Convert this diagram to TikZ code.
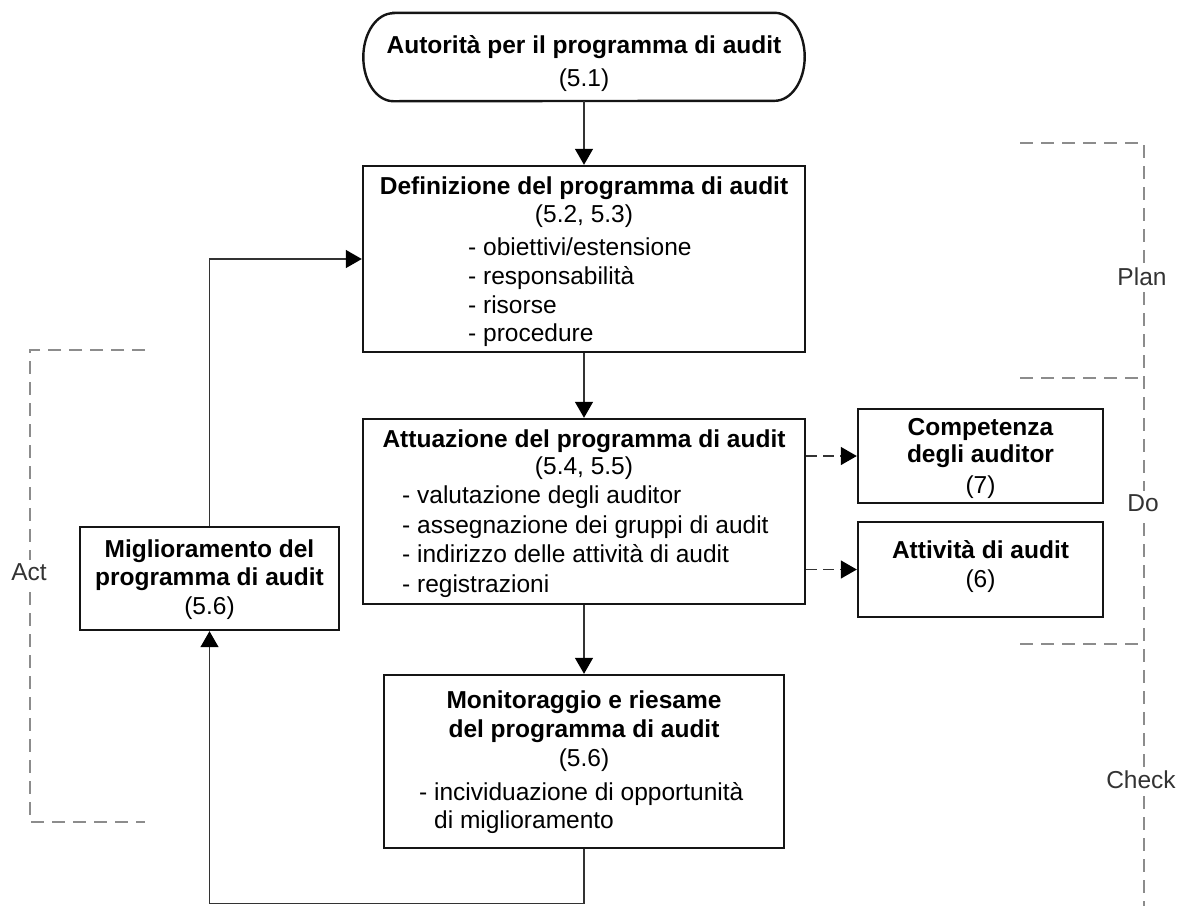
\documentclass[tikz,border=0pt]{standalone}
\usepackage{fontspec}
\setmainfont{Liberation Sans}
\usetikzlibrary{arrows.meta}
\newcommand\dfont{\fontsize{24.5pt}{29pt}\selectfont}
\definecolor{boxcol}{HTML}{151515}
\definecolor{conncol}{HTML}{333333}
\definecolor{brkcol}{HTML}{8C8C8C}
\definecolor{labcol}{HTML}{333333}
\tikzset{
  boxshape/.style={draw=boxcol, line width=2.4pt, inner sep=0pt},
  plainshape/.style={inner sep=0pt},
  txt/.style={inner sep=0pt, anchor=base, font=\dfont},
  btxt/.style={inner sep=0pt, anchor=base, font=\dfont\bfseries},
  ltxt/.style={inner sep=0pt, anchor=base west, font=\dfont},
  tip/.style={-{Triangle[length=16pt,width=18pt,fill=black,color=black]}},
  conn/.style={draw=conncol, line width=1.3pt, tip},
  dconn/.style={draw=conncol, line width=1.4pt, dash pattern=on 11pt off 6pt, tip},
  bracket/.style={draw=brkcol, line width=2.2pt, dash pattern=on 13pt off 8pt},
  brklabel/.style={fill=white, inner sep=3pt, text=labcol, font=\dfont}
}
\begin{document}
\begin{tikzpicture}[x=1pt, y=-1pt]
\useasboundingbox (0,0) rectangle (1183,906);
% boxes
\node[plainshape, minimum width=441pt, minimum height=88pt] (term) at (584,57) {};
\draw[draw=boxcol, line width=2.4pt] ([xshift=30pt]term.north west) -- ([xshift=-30pt]term.north east)
  arc[start angle=90, end angle=-90, x radius=30pt, y radius=44pt]
  -- ([xshift=30pt]term.south west)
  arc[start angle=270, end angle=90, x radius=30pt, y radius=44pt] -- cycle;
\node[boxshape, minimum width=442pt, minimum height=186pt] (def) at (584,259) {};
\node[boxshape, minimum width=442pt, minimum height=185pt] (att) at (584,511.5) {};
\node[boxshape, minimum width=245pt, minimum height=94pt] (comp) at (980.5,456) {};
\node[boxshape, minimum width=245pt, minimum height=95pt] (attiv) at (980.5,569.5) {};
\node[boxshape, minimum width=400pt, minimum height=173pt] (mon) at (584,761.5) {};
\node[boxshape, minimum width=259pt, minimum height=103pt] (mig) at (209.5,578.5) {};
% texts
\node[btxt] (t1) at (584,53) {Autorità per il programma di audit};
\node[txt] (t2) at (584,86) {(5.1)};
\node[btxt] (d1) at (584,194) {Definizione del programma di audit};
\node[txt] (d2) at (584,222) {(5.2, 5.3)};
\node[ltxt] (d3) at (468,255) {- obiettivi/estensione};
\node[ltxt] (d4) at (468,284) {- responsabilità};
\node[ltxt] (d5) at (468,313) {- risorse};
\node[ltxt] (d6) at (468,341) {- procedure};
\node[btxt] (a1) at (584,447) {Attuazione del programma di audit};
\node[txt] (a2) at (584,474) {(5.4, 5.5)};
\node[ltxt] (a3) at (402,503) {- valutazione degli auditor};
\node[ltxt] (a4) at (402,533) {- assegnazione dei gruppi di audit};
\node[ltxt] (a5) at (402,562) {- indirizzo delle attività di audit};
\node[ltxt] (a6) at (402,592) {- registrazioni};
\node[btxt] (c1) at (980.5,435) {Competenza};
\node[btxt] (c2) at (980.5,462) {degli auditor};
\node[txt] (c3) at (980.5,493) {(7)};
\node[btxt] (v1) at (980.5,558) {Attività di audit};
\node[txt] (v2) at (980.5,587) {(6)};
\node[btxt] (m1) at (584,708) {Monitoraggio e riesame};
\node[btxt] (m2) at (584,737) {del programma di audit};
\node[txt] (m3) at (584,766) {(5.6)};
\node[ltxt] (m4) at (419,800) {- incividuazione di opportunità};
\node[ltxt] (m5) at (419,828) {\phantom{- }di miglioramento};
\node[btxt] (g1) at (209.5,557) {Miglioramento del};
\node[btxt] (g2) at (209.5,585) {programma di audit};
\node[txt] (g3) at (209.5,614) {(5.6)};
% connectors
\draw[conn] (term.south) -- (def.north);
\draw[conn] (def.south) -- (att.north);
\draw[conn] (att.south) -- (mon.north);
\draw[dconn] (att.east |- comp.west) -- (comp.west);
\draw[dconn] (att.east |- attiv.west) -- (attiv.west);
\draw[conn] (mon.south) -- ++(0,54) -| (mig.south);
\draw[conn] (mig.north) |- (def.west);
% PDCA brackets
\draw[bracket] (145,350) -- (30,350) -- (30,822) -- (145,822);
\draw[bracket] (1020,143) -- (1144,143) -- (1144,906);
\draw[bracket] (1020,378) -- (1144,378);
\draw[bracket] (1020,644) -- (1144,644);
\node[brklabel] (lact) at (29,572) {Act};
\node[brklabel] (lplan) at (1142,277) {Plan};
\node[brklabel] (ldo) at (1143,503) {Do};
\node[brklabel] (lcheck) at (1141,780) {Check};
\end{tikzpicture}
\end{document}
